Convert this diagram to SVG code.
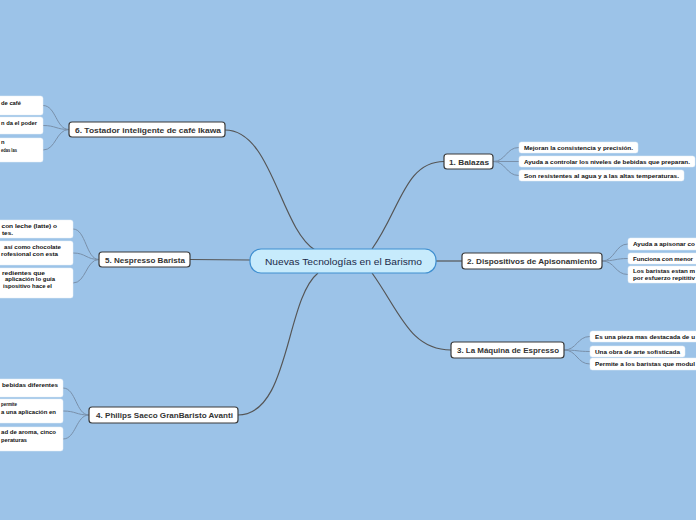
<svg xmlns="http://www.w3.org/2000/svg" width="696" height="520" viewBox="0 0 696 520">
<style>
.bg{fill:#9cc3e8}
.main{fill:#ffffff;stroke:#3b3b3b;stroke-width:1.2}
.leaf{fill:#ffffff;stroke:#e6eef6;stroke-width:0.5}
.mt{font-family:"Liberation Sans",Arial,sans-serif;font-weight:bold;font-size:7.5px;fill:#333333}
.lt{font-family:"Liberation Sans",Arial,sans-serif;font-weight:bold;font-size:5.8px;fill:#111111}
.ct{font-family:"Liberation Sans",Arial,sans-serif;font-size:9.5px;fill:#1b2a48}
.c1{fill:none;stroke:#555555;stroke-width:1.2}
.c2{fill:none;stroke:#7990aa;stroke-width:1}
</style>
<rect class="bg" x="0" y="0" width="696" height="520"/>
<g id="connectors">
<path class="c1" d="M225,130 C272,130 280,228 315,250"/>
<path class="c1" d="M372,249 C400,210 405,161.5 444,161.5"/>
<path class="c1" d="M436,261 L462,261"/>
<path class="c1" d="M372,273 C400,312 410,350 451,350"/>
<path class="c1" d="M238,415 C290,415 285,300 318,273"/>
<path class="c1" d="M250,260 L190,259.5"/>
<path class="c2" d="M493,161.5 C506,161.5 506,147.5 519,147.5"/>
<path class="c2" d="M493,161.5 L519,161.5"/>
<path class="c2" d="M493,161.5 C506,161.5 506,175.5 519,175.5"/>
<path class="c2" d="M602,261 C615,261 615,244 628,244"/>
<path class="c2" d="M602,261 C615,261 615,258.5 628,258.5"/>
<path class="c2" d="M602,261 C615,261 615,274.5 628,274.5"/>
<path class="c2" d="M564,350 C577,350 577,336.5 590,336.5"/>
<path class="c2" d="M564,350 C577,350 577,351.5 590,351.5"/>
<path class="c2" d="M564,350 C577,350 577,364 590,364"/>
<path class="c2" d="M69,129.5 C56,129.5 56,105.5 43,105.5"/>
<path class="c2" d="M69,129.5 C56,129.5 56,125.5 43,125.5"/>
<path class="c2" d="M69,129.5 C56,129.5 56,150 43,150"/>
<path class="c2" d="M99,259.5 C86,259.5 86,229 73,229"/>
<path class="c2" d="M99,259.5 C86,259.5 86,253 73,253"/>
<path class="c2" d="M99,259.5 C86,259.5 86,283 73,283"/>
<path class="c2" d="M89,415 C76,415 76,388 63,388"/>
<path class="c2" d="M89,415 C76,415 76,411 63,411"/>
<path class="c2" d="M89,415 C76,415 76,439 63,439"/>
</g>
<g id="center">
<rect x="250" y="249" width="186" height="24" rx="11" fill="#c7ebfc" stroke="#3f8fd0" stroke-width="1.2"/>
<text class="ct" x="265" y="264.5" textLength="157" lengthAdjust="spacingAndGlyphs">Nuevas Tecnologías en el Barismo</text>
</g>
<g id="n1">
<rect class="main" x="444" y="154" width="49" height="15" rx="3"/>
<text class="mt" x="449" y="164.5" textLength="40" lengthAdjust="spacingAndGlyphs">1. Balazas</text>
</g>
<g id="n1a"><rect class="leaf" x="519" y="142" width="119" height="11" rx="2.5"/><text class="lt" x="524" y="149.8" textLength="109" lengthAdjust="spacingAndGlyphs">Mejoran la consistencia y precisión.</text></g>
<g id="n1b"><rect class="leaf" x="519" y="156" width="176" height="11" rx="2.5"/><text class="lt" x="524" y="163.8" textLength="166" lengthAdjust="spacingAndGlyphs">Ayuda a controlar los niveles de bebidas que preparan.</text></g>
<g id="n1c"><rect class="leaf" x="519" y="170" width="165" height="11" rx="2.5"/><text class="lt" x="524" y="177.8" textLength="155" lengthAdjust="spacingAndGlyphs">Son resistentes al agua y a las altas temperaturas.</text></g>
<g id="n2">
<rect class="main" x="462" y="253" width="140" height="16" rx="3"/>
<text class="mt" x="467" y="264" textLength="130" lengthAdjust="spacingAndGlyphs">2. Dispositivos de Apisonamiento</text>
</g>
<g id="n2a"><rect class="leaf" x="628" y="238" width="90" height="12" rx="2.5"/><text class="lt" x="633" y="246.3" textLength="62" lengthAdjust="spacingAndGlyphs">Ayuda a apisonar co</text></g>
<g id="n2b"><rect class="leaf" x="628" y="253" width="90" height="11" rx="2.5"/><text class="lt" x="633" y="260.8" textLength="60" lengthAdjust="spacingAndGlyphs">Funciona con menor</text></g>
<g id="n2c"><rect class="leaf" x="628" y="266" width="90" height="17" rx="2.5"/><text class="lt" x="633" y="273.3" textLength="62" lengthAdjust="spacingAndGlyphs">Los baristas estan m</text><text class="lt" x="633" y="280.3" textLength="62" lengthAdjust="spacingAndGlyphs">por esfuerzo repititiv</text></g>
<g id="n3">
<rect class="main" x="451" y="342" width="113" height="16" rx="3"/>
<text class="mt" x="457" y="353" textLength="102" lengthAdjust="spacingAndGlyphs">3. La Máquina de Espresso</text>
</g>
<g id="n3a"><rect class="leaf" x="590" y="331" width="120" height="11" rx="2.5"/><text class="lt" x="595" y="338.8" textLength="100" lengthAdjust="spacingAndGlyphs">Es una pieza mas destacada de u</text></g>
<g id="n3b"><rect class="leaf" x="590" y="346" width="95" height="11" rx="2.5"/><text class="lt" x="595" y="353.8" textLength="85" lengthAdjust="spacingAndGlyphs">Una obra de arte sofisticada</text></g>
<g id="n3c"><rect class="leaf" x="590" y="358" width="120" height="12" rx="2.5"/><text class="lt" x="595" y="366.3" textLength="100" lengthAdjust="spacingAndGlyphs">Permite a los baristas que modul</text></g>
<g id="n6">
<rect class="main" x="69" y="122" width="156" height="15" rx="3"/>
<text class="mt" x="75" y="132.5" textLength="146" lengthAdjust="spacingAndGlyphs">6. Tostador inteligente de café Ikawa</text>
</g>
<g id="n6a"><rect class="leaf" x="-10" y="96" width="53" height="19" rx="2.5"/><text class="lt" x="1" y="104.5" textLength="20" lengthAdjust="spacingAndGlyphs">de café</text></g>
<g id="n6b"><rect class="leaf" x="-10" y="117" width="53" height="17" rx="2.5"/><text class="lt" x="1" y="124.8" textLength="36" lengthAdjust="spacingAndGlyphs">n da el poder</text></g>
<g id="n6c"><rect class="leaf" x="-10" y="138" width="53" height="24" rx="2.5"/><text class="lt" x="1" y="144.3">n</text><text class="lt" x="1" y="152" textLength="16" lengthAdjust="spacingAndGlyphs">edas las</text></g>
<g id="n5">
<rect class="main" x="99" y="252" width="91" height="15" rx="3"/>
<text class="mt" x="105" y="262.5" textLength="80" lengthAdjust="spacingAndGlyphs">5. Nespresso Barista</text>
</g>
<g id="n5a"><rect class="leaf" x="-10" y="220" width="83" height="18" rx="2.5"/><text class="lt" x="1.5" y="228.2" textLength="55.5" lengthAdjust="spacingAndGlyphs">con leche (latte) o</text><text class="lt" x="2" y="234.7" textLength="11" lengthAdjust="spacingAndGlyphs">tes.</text></g>
<g id="n5b"><rect class="leaf" x="-10" y="241" width="83" height="24" rx="2.5"/><text class="lt" x="4" y="249.3" textLength="57" lengthAdjust="spacingAndGlyphs">así como chocolate</text><text class="lt" x="1" y="255.8" textLength="57" lengthAdjust="spacingAndGlyphs">rofesional con esta</text></g>
<g id="n5c"><rect class="leaf" x="-10" y="268" width="83" height="30" rx="2.5"/><text class="lt" x="2" y="274.5" textLength="43" lengthAdjust="spacingAndGlyphs">redientes que</text><text class="lt" x="5" y="281.3" textLength="50" lengthAdjust="spacingAndGlyphs">aplicación lo guía</text><text class="lt" x="3" y="288" textLength="49" lengthAdjust="spacingAndGlyphs">ispositivo hace el</text></g>
<g id="n4">
<rect class="main" x="89" y="407" width="149" height="16" rx="3"/>
<text class="mt" x="96" y="418" textLength="137" lengthAdjust="spacingAndGlyphs">4. Philips Saeco GranBaristo Avanti</text>
</g>
<g id="n4a"><rect class="leaf" x="-10" y="379" width="73" height="18" rx="2.5"/><text class="lt" x="2" y="387" textLength="56" lengthAdjust="spacingAndGlyphs">bebidas diferentes</text></g>
<g id="n4b"><rect class="leaf" x="-10" y="399" width="73" height="24" rx="2.5"/><text class="lt" x="1" y="406.3" textLength="16" lengthAdjust="spacingAndGlyphs">permite</text><text class="lt" x="1" y="414" textLength="55" lengthAdjust="spacingAndGlyphs">a una aplicación en</text></g>
<g id="n4c"><rect class="leaf" x="-10" y="427" width="73" height="24" rx="2.5"/><text class="lt" x="1" y="434.3" textLength="55" lengthAdjust="spacingAndGlyphs">ad de aroma, cinco</text><text class="lt" x="1" y="441.5" textLength="26" lengthAdjust="spacingAndGlyphs">peraturas</text></g>
</svg>
